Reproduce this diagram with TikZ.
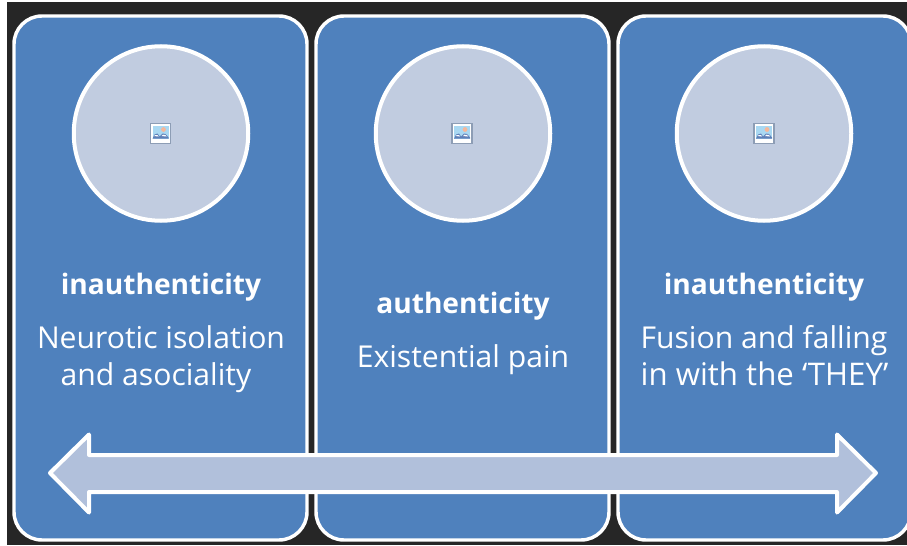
\documentclass[tikz,border=0pt]{standalone}
\usepackage{fontspec}
\setmainfont{Open Sans}
\definecolor{backdark}{HTML}{262626}
\definecolor{panelblue}{HTML}{4F81BD}
\definecolor{circlefill}{HTML}{C1CCE0}
\definecolor{arrowfill}{HTML}{B1C0DB}
\definecolor{iconsky}{HTML}{A9D8F2}
\definecolor{iconhill}{HTML}{5F80B8}
\definecolor{iconsun}{HTML}{F4B79A}
\definecolor{iconedge}{HTML}{8D9DB5}
\tikzset{
	panelbox/.style={draw=white,line width=2.6pt,fill=panelblue,rounded corners=21pt},
	picdisc/.style={draw=white,line width=3pt,fill=circlefill},
	label/.style={text=white,font=\fontsize{22.6pt}{28pt}\selectfont,align=center,inner sep=0pt,anchor=base},
	boldlabel/.style={label,font=\fontsize{21.1pt}{28pt}\selectfont\bfseries},
	widelabel/.style={label,font=\fontsize{23.4pt}{28pt}\selectfont}
}
% small placeholder picture, #1 is its centre
\newcommand{\picicon}[1]{
	\begin{scope}[shift={#1}]
		\fill[white] (-10,-10) rectangle (10,10);
		\fill[iconsky] (-8,-8) rectangle (8,5);
		\fill[iconsun] (3,-4) circle (2.4);
		\fill[iconhill] (-8,5) -- (-6,1) -- (-3,0) -- (-1,3) -- (2,0) -- (5,0.5) -- (8,4) -- (8,5) -- cycle;
		\fill[white] (-6.5,2.5) -- (-5,1.5) -- (-3,1.5) -- (-2,3) -- cycle;
		\fill[white] (1,2.5) -- (2.5,1.2) -- (5,1.5) -- (6,3) -- cycle;
		\draw[iconedge,line width=0.9pt] (-10,-10) rectangle (10,10);
	\end{scope}
}
\begin{document}
\begin{tikzpicture}[x=0.75pt,y=-0.75pt]
	\useasboundingbox (0,0) rectangle (907,546);
	\fill[white] (0,0) rectangle (907,546);
	\fill[backdark] (7,2) rectangle (907,545);
	\draw[panelbox] (14,16) rectangle (307,540);
	\draw[panelbox] (316,16) rectangle (609,540);
	\draw[panelbox] (618,16) rectangle (911,540);
	\node[picdisc,circle,minimum size=174.5*0.75pt] at (161,133.5) (disca) {};
	\node[picdisc,circle,minimum size=174.5*0.75pt] at (463,133.5) (discb) {};
	\node[picdisc,circle,minimum size=174.5*0.75pt] at (764,133.5) (discc) {};
	\picicon{(160.5,133.5)}
	\picicon{(462,133.5)}
	\picicon{(764,133.5)}
	\node[boldlabel] at (161,294) (heada) {inauthenticity};
	\node[label] at (161,348) (texta) {Neurotic isolation};
	\node[label] at (156,385) (textaa) {and asociality};
	\node[boldlabel] at (463,313) (headb) {authenticity};
	\node[label] at (463,367) (textb) {Existential pain};
	\node[boldlabel] at (764,294) (headc) {inauthenticity};
	\node[label] at (764,348) (textc) {Fusion and falling};
	\node[widelabel] at (764.5,385) (textcc) {in with the ‘THEY’};
	\draw[draw=white,line width=3pt,fill=arrowfill,line join=round] (50,473) -- (89,434.5) -- (89,455) -- (837,455) -- (837,434.5) -- (876,473) -- (837,512.5) -- (837,492) -- (89,492) -- (89,512.5) -- cycle;
\end{tikzpicture}
\end{document}
